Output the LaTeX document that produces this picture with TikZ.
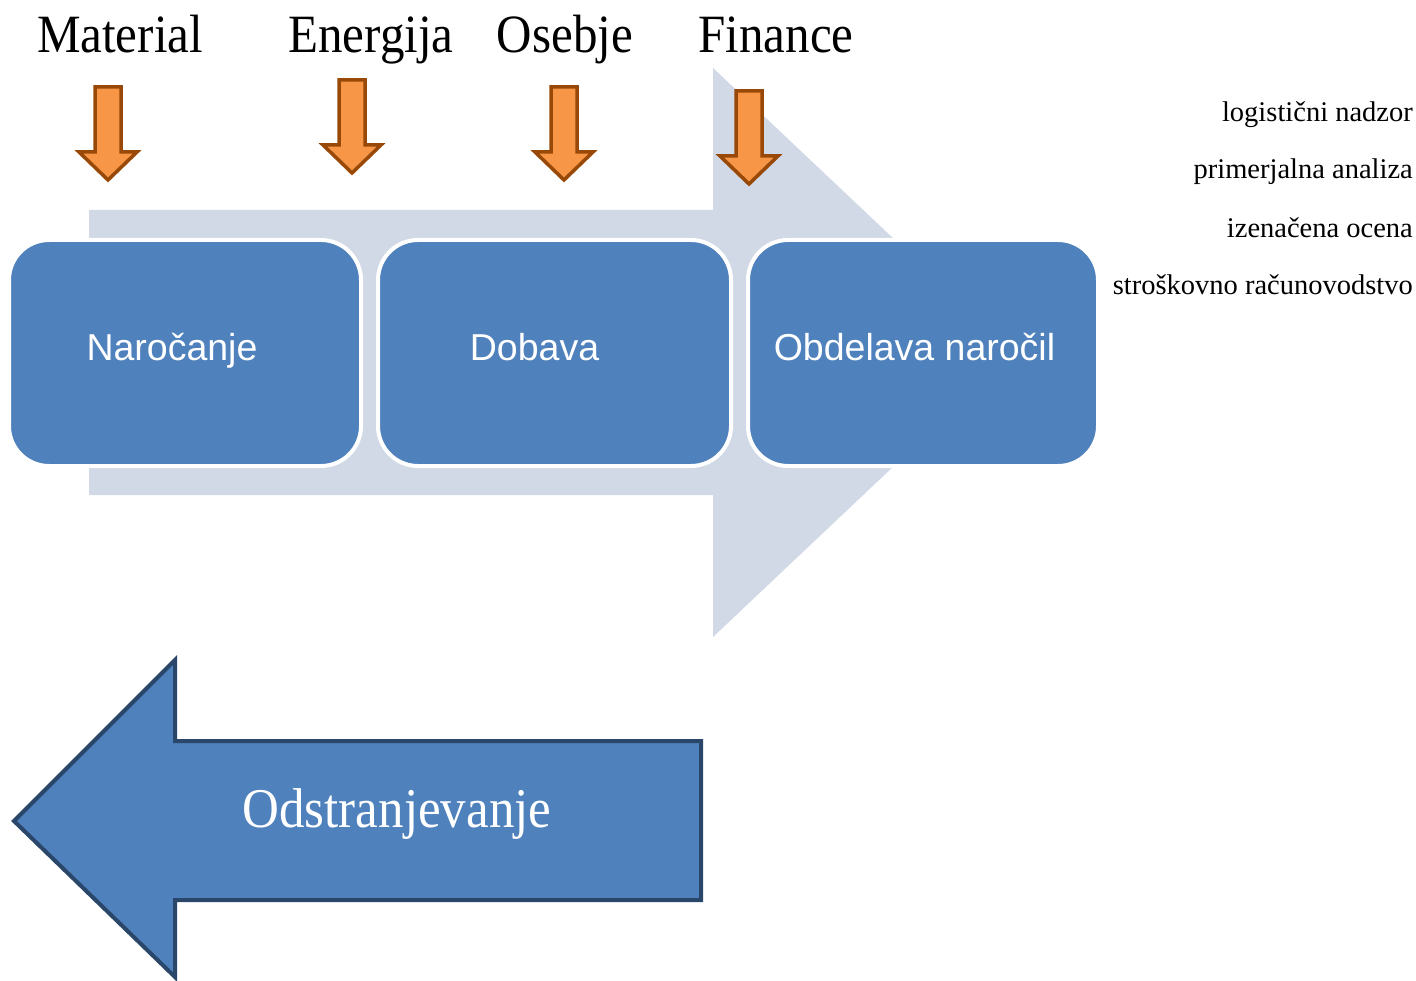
\documentclass[tikz,border=0pt]{standalone}
\usepackage{fontspec}
\setmainfont{Liberation Serif}
\newfontfamily\boxfont{Liberation Sans}
\usetikzlibrary{calc}
\definecolor{flowgray}{HTML}{D1D8E6}
\definecolor{boxblue}{HTML}{4F81BD}
\definecolor{darkline}{HTML}{2A4668}
\definecolor{orfill}{HTML}{F79646}
\definecolor{orline}{HTML}{984807}
\tikzset{
  procbox/.style={draw=white, line width=4pt, fill=boxblue, rounded corners=40pt,
    minimum height=226pt, text=white, font=\boxfont\fontsize{37.5}{42}\selectfont, inner sep=0pt},
  toplabel/.style={anchor=base, font=\fontsize{49}{55}\selectfont, inner sep=0pt},
  sidelabel/.style={anchor=east, font=\fontsize{28.5}{32}\selectfont, inner sep=0pt},
  oarrowstyle/.style={fill=orfill, draw=orline, line width=3.5pt, line join=miter},
  oarrow/.pic={\draw[oarrowstyle] (-13,0) -- (13,0) -- (13,65) -- (29,65) -- (0,93) -- (-29,65) -- (-13,65) -- cycle;}
}
\begin{document}
\begin{tikzpicture}[x=1pt,y=-1pt]
\useasboundingbox (0,0) rectangle (1416,981);
% big light arrow
\fill[flowgray] (89,210) -- (713,210) -- (713,68) -- (1014,352.5) -- (713,637) -- (713,495) -- (89,495) -- cycle;
% process boxes
\node[procbox, minimum width=352pt] (b1) at (185,353) {\raisebox{13pt}{Naročanje}\hspace*{26pt}};
\node[procbox, minimum width=353pt] (b2) at (554.5,353) {\raisebox{13pt}{Dobava}\hspace*{40pt}};
\node[procbox, minimum width=350pt] (b3) at (923,353) {\raisebox{13pt}{Obdelava naročil}\hspace*{17pt}};
% top labels
\node[toplabel] (l1) at (120,53) {\scalebox{1}[1.1]{Material}};
\node[toplabel] (l2) at (371,53) {\scalebox{1}[1.1]{Energija}};
\node[toplabel] (l3) at (565,53) {\scalebox{1}[1.1]{Osebje}};
\node[toplabel] (l4) at (776,53) {\scalebox{1}[1.1]{Finance}};
% orange arrows
\pic at (108,87) {oarrow};
\pic at (352,80) {oarrow};
\pic at (564,87) {oarrow};
\pic at (749,91) {oarrow};
% side labels
\node[sidelabel] (s1) at (1413,115) {logistični nadzor};
\node[sidelabel] (s2) at (1413,172) {primerjalna analiza};
\node[sidelabel] (s3) at (1413,228) {izenačena ocena};
\node[sidelabel] (s4) at (1413,285) {stroškovno računovodstvo};
% dark arrow
\draw[fill=boxblue, draw=darkline, line width=4pt, line join=miter]
  (14,821) -- (175,660) -- (175,741) -- (701,741) -- (701,900) -- (175,900) -- (175,977) -- cycle;
\node[text=white, font=\fontsize{51}{56}\selectfont, inner sep=0pt] (odst) at (397,814) {\scalebox{1}[1.1]{Odstranjevanje}};
\end{tikzpicture}
\end{document}
